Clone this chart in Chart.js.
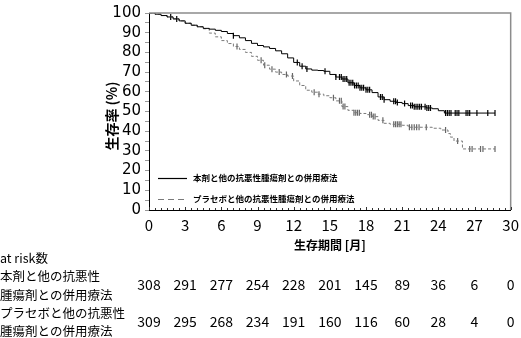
<!DOCTYPE html>
<html>
<head>
<meta charset="utf-8">
<script src="https://cdn.jsdelivr.net/npm/chart.js@4"></script>
<style>
  html, body { margin: 0; padding: 0; background: #fff; }
  #km { display: block; }
</style>
</head>
<body>
<canvas id="km" width="521" height="338"></canvas>
<script>
// Kaplan-Meier: overall survival by arm
const combTime = [0, 0.5, 1.0, 1.5, 2.0, 2.5, 3.0, 3.5, 4.0, 4.5, 5.0, 5.5, 6.0, 6.5, 7.0, 7.5, 8.0, 8.5, 9.0, 9.5, 10.0, 10.5, 11.0, 11.5, 12.0, 12.5, 13.0, 13.5, 14.0, 14.5, 15.0, 15.5, 16.0, 16.5, 17.0, 17.5, 18.0, 18.5, 19.0, 19.5, 20.0, 20.5, 21.0, 21.5, 22.0, 23.0, 23.5, 24.0, 24.5, 28.7];
const combSurv = [100, 99.4, 98.7, 98.0, 97.0, 96.0, 94.8, 93.8, 93.0, 92.2, 91.8, 91.2, 90.6, 89.6, 88.5, 87.4, 86.0, 84.6, 83.5, 82.8, 82.0, 80.8, 79.3, 77.2, 74.9, 73.0, 71.6, 71.0, 70.8, 70.4, 68.8, 67.5, 66.5, 64.6, 63.2, 62.0, 61.0, 59.6, 57.4, 56.0, 55.2, 54.6, 54.0, 53.0, 52.4, 51.8, 51.4, 50.4, 49.2, 49.2];

const placTime = [0, 0.5, 1.0, 1.5, 2.0, 2.5, 3.0, 3.5, 4.0, 4.5, 5.0, 5.5, 6.0, 6.5, 7.0, 7.5, 8.0, 8.5, 9.0, 9.5, 10.0, 10.5, 11.0, 11.5, 12.0, 12.5, 13.0, 13.5, 14.0, 14.5, 15.0, 15.5, 16.0, 16.5, 17.0, 17.5, 18.0, 18.5, 19.0, 19.5, 20.0, 21.0, 21.5, 23.5, 24.2, 24.8, 25.0, 25.3, 26.0, 28.7];
const placSurv = [100, 99.4, 98.7, 98.0, 97.0, 96.0, 94.8, 93.8, 93.0, 92.0, 89.8, 87.9, 86.0, 84.5, 83.0, 81.5, 80.0, 78.0, 76.0, 73.5, 71.5, 70.0, 68.8, 68.0, 65.5, 63.2, 60.8, 59.8, 58.8, 58.0, 57.0, 55.4, 52.5, 50.6, 49.4, 49.0, 48.4, 47.4, 45.5, 44.0, 43.5, 43.0, 42.0, 41.5, 40.6, 38.8, 37.0, 35.0, 31.0, 31.0];

// censored observations (months)
const combCensor = [1.8, 2.3, 7.0, 12.3, 12.7, 13.1, 14.6, 15.5, 15.8, 15.95, 16.1, 16.25, 16.4, 16.6, 16.75, 16.9, 17.05, 17.2, 17.35, 17.5, 17.65, 17.8, 18.0, 18.15, 18.3, 19.2, 19.35, 19.5, 20.3, 20.45, 20.6, 21.2, 21.7, 21.85, 22.0, 22.15, 22.3, 22.45, 22.6, 22.9, 23.05, 23.2, 23.35, 24.6, 24.75, 24.9, 25.05, 25.4, 25.55, 25.7, 26.3, 26.45, 26.6, 27.2, 28.1, 28.7];
const placCensor = [7.3, 9.3, 9.6, 10.2, 10.8, 11.4, 11.9, 13.7, 14.1, 15.3, 15.8, 15.95, 16.1, 16.25, 17.0, 17.15, 17.3, 17.45, 18.3, 18.45, 18.6, 18.75, 19.4, 20.3, 20.45, 20.6, 20.75, 20.9, 21.6, 21.8, 22.0, 22.2, 22.4, 23.0, 24.6, 25.6, 26.6, 26.8, 27.5, 27.7, 28.7];

// number at risk
const riskMonths = [0, 3, 6, 9, 12, 15, 18, 21, 24, 27, 30];
const riskComb = [308, 291, 277, 254, 228, 201, 145, 89, 36, 6, 0];
const riskPlac = [309, 295, 268, 234, 191, 160, 116, 60, 28, 4, 0];

const armNames = ['本剤と他の抗悪性腫瘍剤との併用療法', 'プラセボと他の抗悪性腫瘍剤との併用療法'];
const riskRowLabels = [['本剤と他の抗悪性', '腫瘍剤との併用療法'], ['プラセボと他の抗悪性', '腫瘍剤との併用療法']];

const JP = '"Noto Sans CJK JP", "Noto Sans", sans-serif';
const GRAY = '#7a7a7a';

function toPoints(times, surv) {
  return times.map((t, i) => ({ x: t, y: surv[i] }));
}

// survival value of a step curve at time t
function survAt(times, surv, t) {
  let v = surv[0];
  for (let i = 0; i < times.length; i++) {
    if (times[i] <= t) v = surv[i];
  }
  return v;
}

function censorPoints(cens, times, surv) {
  return cens.map(t => ({ x: t, y: survAt(times, surv, t) }));
}

// extra drawing: frame, minor ticks, axis titles, legend, at-risk table
const extras = {
  id: 'extras',
  afterDraw(chart) {
    const ctx = chart.ctx;
    const a = chart.chartArea;
    const xs = chart.scales.x;
    ctx.save();

    // top / right frame
    ctx.strokeStyle = '#8c8c8c';
    ctx.lineWidth = 1.5;
    ctx.beginPath();
    ctx.moveTo(a.left, a.top);
    ctx.lineTo(a.right, a.top);
    ctx.lineTo(a.right, a.bottom);
    ctx.stroke();

    // minor ticks along the time axis
    ctx.strokeStyle = '#333';
    ctx.lineWidth = 1;
    for (let m = 0; m <= 30.001; m += 0.5) {
      const px = Math.round(xs.getPixelForValue(m)) + 0.5;
      const len = (Math.abs(m % 3) < 0.001) ? 3 : 2;
      ctx.beginPath();
      ctx.moveTo(px, a.bottom);
      ctx.lineTo(px, a.bottom - len);
      ctx.stroke();
    }

    // axis titles
    ctx.fillStyle = '#000';
    ctx.font = 'bold 12px ' + JP;
    ctx.textAlign = 'center';
    ctx.textBaseline = 'middle';
    ctx.fillText('生存期間 [月]', 330, 245);

    ctx.save();
    ctx.translate(112, 116);
    ctx.rotate(-Math.PI / 2);
    ctx.font = 'bold 14px ' + JP;
    ctx.fillText('生存率 (%)', 0, 0);
    ctx.restore();

    // legend inside the plot
    ctx.font = 'bold 8.5px ' + JP;
    ctx.textAlign = 'left';
    ctx.lineWidth = 1.2;
    ctx.strokeStyle = '#000';
    ctx.beginPath();
    ctx.moveTo(158, 178.5);
    ctx.lineTo(187, 178.5);
    ctx.stroke();
    ctx.fillText(armNames[0], 193, 178);

    ctx.strokeStyle = GRAY;
    ctx.setLineDash([6, 4]);
    ctx.beginPath();
    ctx.moveTo(158, 199.5);
    ctx.lineTo(188, 199.5);
    ctx.stroke();
    ctx.setLineDash([]);
    ctx.fillText(armNames[1], 193, 199);

    // at-risk table
    ctx.font = '12.5px ' + JP;
    ctx.fillText('at risk数', 0, 258);
    ctx.fillText(riskRowLabels[0][0], 0, 276);
    ctx.fillText(riskRowLabels[0][1], 0, 295);
    ctx.fillText(riskRowLabels[1][0], 0, 313);
    ctx.fillText(riskRowLabels[1][1], 0, 331);

    ctx.font = '14px ' + JP;
    ctx.textAlign = 'center';
    riskMonths.forEach((m, i) => {
      const px = xs.getPixelForValue(m);
      ctx.fillText(String(riskComb[i]), px, 285);
      ctx.fillText(String(riskPlac[i]), px, 322);
    });

    ctx.restore();
  }
};

new Chart(document.getElementById('km'), {
  type: 'line',
  data: {
    datasets: [
      {
        label: armNames[0],
        data: toPoints(combTime, combSurv),
        stepped: true,
        borderColor: '#000',
        borderWidth: 1,
        pointRadius: 0
      },
      {
        label: armNames[1],
        data: toPoints(placTime, placSurv),
        stepped: true,
        borderColor: GRAY,
        borderWidth: 1,
        borderDash: [3, 2],
        pointRadius: 0
      },
      {
        label: 'combCensor',
        data: censorPoints(combCensor, combTime, combSurv),
        showLine: false,
        pointStyle: 'line',
        rotation: 90,
        pointRadius: 3,
        borderColor: '#000',
        borderWidth: 1.2
      },
      {
        label: 'placCensor',
        data: censorPoints(placCensor, placTime, placSurv),
        showLine: false,
        pointStyle: 'line',
        rotation: 90,
        pointRadius: 3,
        borderColor: '#666',
        borderWidth: 1.2
      }
    ]
  },
  options: {
    responsive: false,
    animation: false,
    devicePixelRatio: 1,
    layout: { padding: { top: 5, right: 9, bottom: 0, left: 0 } },
    plugins: {
      legend: { display: false },
      tooltip: { enabled: false }
    },
    scales: {
      x: {
        type: 'linear',
        min: 0,
        max: 30,
        afterFit(s) { s.height = 128; },
        ticks: {
          stepSize: 3,
          color: '#000',
          padding: 2,
          maxRotation: 0,
          font: { family: JP, size: 15 }
        },
        grid: { drawOnChartArea: false, tickLength: 4, tickColor: 'rgba(0,0,0,0)' },
        border: { color: '#000', width: 1 }
      },
      y: {
        min: 0,
        max: 100,
        afterFit(s) { s.width = 149; },
        ticks: {
          stepSize: 5,
          autoSkip: false,
          color: '#000',
          padding: 4,
          font: { family: '"DejaVu Sans", sans-serif', size: 15 },
          callback: v => (v % 10 === 0 ? v : '')
        },
        grid: { drawOnChartArea: false, tickLength: 4, color: '#999' },
        border: { color: '#000', width: 1 }
      }
    }
  },
  plugins: [extras]
});
</script>
</body>
</html>
